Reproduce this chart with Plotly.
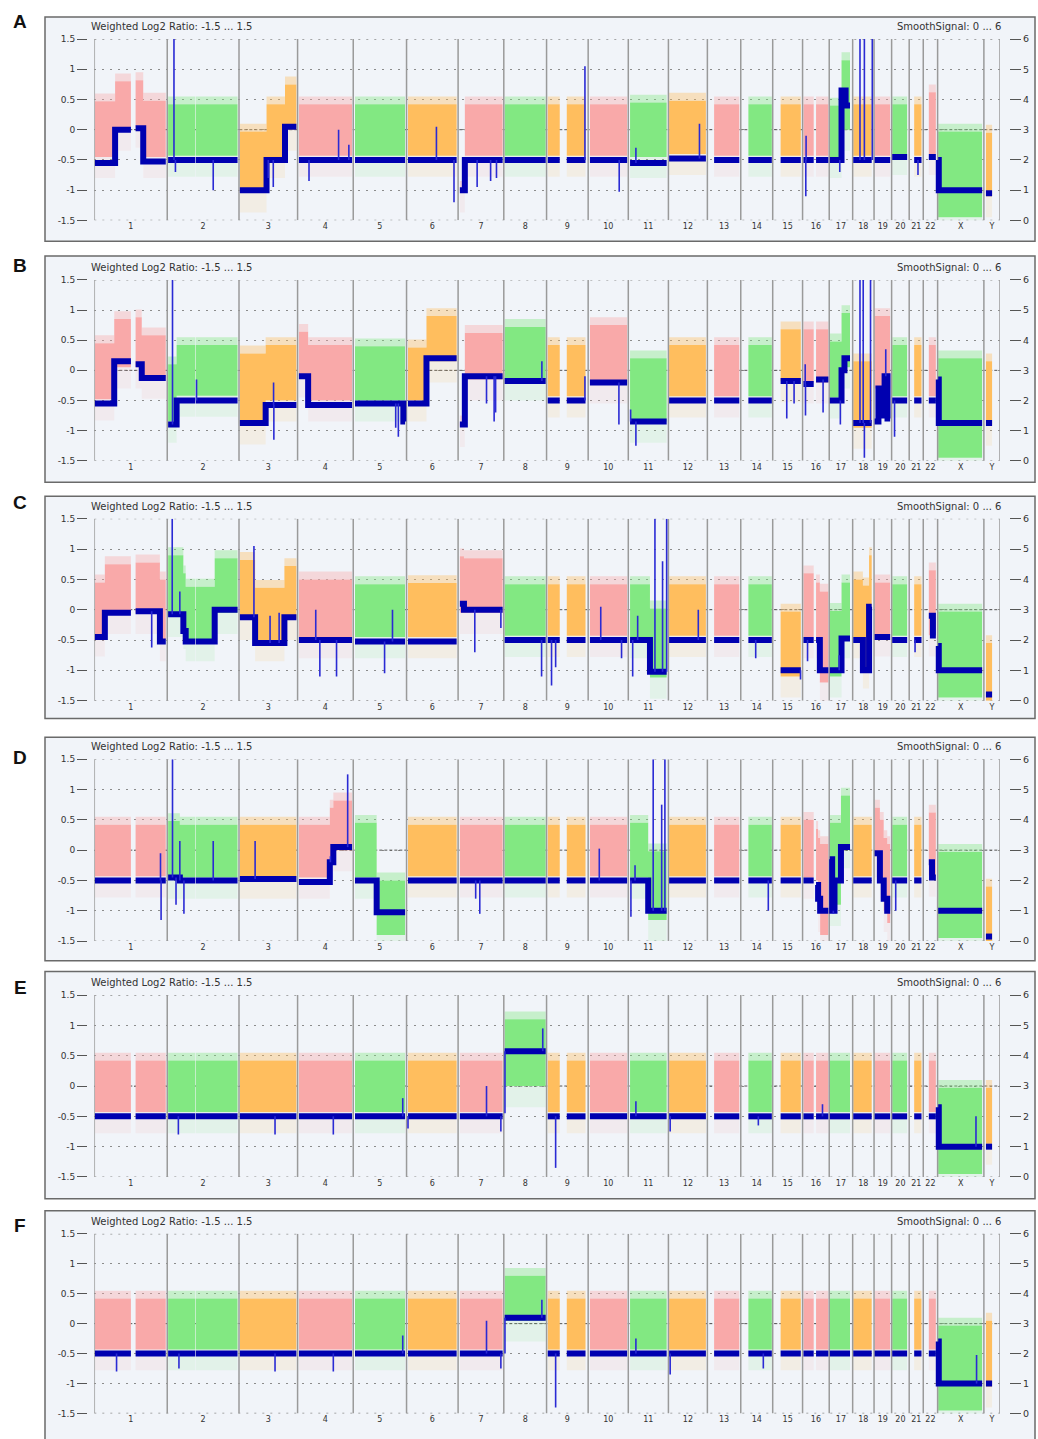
import plotly.graph_objects as go

W, H = 1038, 1439

# ---------------- data ----------------
CHROMS = [str(i) for i in range(1, 23)] + ["X", "Y"]
# display lengths (Mb) read from the chromosome separators
CHROM_LEN = [249, 245, 200, 190, 182, 176, 156, 146, 142, 137, 137, 133,
             114, 109, 102, 91, 80, 73, 60, 60, 48, 49, 158, 55]
# covered regions (Mb within chromosome) where probes exist
ARMS = {
    "1": [(2, 125), (141, 244)], "2": [(3, 95.5), (97.5, 240)], "3": [(3, 196)],
    "4": [(4.5, 186)], "5": [(6, 177)], "6": [(5, 171)], "7": [(6, 152)],
    "8": [(3, 143)], "9": [(4, 45), (69, 133)], "10": [(6, 133)], "11": [(6, 131)],
    "12": [(2.4, 128)], "13": [(23, 109)], "14": [(26, 106)], "15": [(27, 96)],
    "16": [(3, 38), (46, 88)], "17": [(2, 71)], "18": [(2, 65)], "19": [(2, 55)],
    "20": [(2, 53)], "21": [(17, 42)], "22": [(19, 43)], "X": [(2, 152)], "Y": [(7, 28)],
}
BAND_COLORS = [(249, 169, 169), (130, 232, 130), (255, 190, 94)]
DEFAULT_LEVEL = 2.0
DEFAULT_BAND = (-0.43, 0.42)

PANELS = ["A", "B", "C", "D", "E", "F"]

# segments: (chrom, start Mb, end Mb, SmoothSignal level, log2 band low, log2 band high)
SEG_A = [
    ("1", 0, 71, 1.9, -0.45, 0.47), ("1", 71, 133, 3.0, 0.0, 0.8),
    ("1", 133, 167, 3.05, 0.05, 0.82), ("1", 167, 249, 1.95, -0.45, 0.48),
    ("3", 0, 94, 1.0, -1.02, -0.03), ("3", 94, 157, 2.0, -0.45, 0.42), ("3", 157, 200, 3.1, 0.0, 0.75),
    ("7", 0, 23, 1.0, -1.02, -0.98), ("7", 23, 156, 2.0, -0.43, 0.42),
    ("11", 0, 137, 1.9, -0.45, 0.45), ("12", 0, 133, 2.05, -0.4, 0.48),
    ("17", 0, 42, 2.0, -0.45, 0.4), ("17", 42, 56, 4.3, 0.0, 1.15), ("17", 56, 80, 3.8, 0.0, 1.15),
    ("20", 0, 60, 2.1, -0.4, 0.42), ("22", 0, 49, 2.1, -0.4, 0.62),
    ("X", 0, 4, 2.0, -1.45, -0.03), ("X", 4, 158, 1.0, -1.45, -0.03),
    ("Y", 0, 55, 0.9, -1.1, -0.05),
]
SPK_A = [
    ("2", 23, 6.0), ("2", 28, 1.6), ("2", 157, 1.0), ("3", 117, 1.1), ("3", 100, 1.4),
    ("4", 39, 1.3), ("4", 140, 3.0), ("4", 175, 2.5), ("6", 102, 3.1), ("6", 162, 0.6),
    ("7", 65, 1.1), ("7", 111, 1.3), ("7", 131, 1.4), ("9", 131, 5.1), ("10", 106, 0.95),
    ("11", 26, 2.4), ("12", 106, 3.2), ("16", 11, 0.8), ("16", 12, 2.8), ("17", 36, 1.6),
    ("18", 25, 6.0), ("18", 40, 6.0), ("18", 67, 6.0), ("21", 30, 1.5),
]

SEG_B = [
    ("1", 0, 68, 1.9, -0.48, 0.45), ("1", 68, 133, 3.3, 0.05, 0.85),
    ("1", 133, 162, 3.2, 0.05, 0.88), ("1", 162, 249, 2.75, -0.12, 0.58),
    ("2", 0, 32, 1.2, -0.85, 0.1), ("2", 32, 245, 2.0, -0.42, 0.42),
    ("3", 0, 91, 1.25, -0.88, 0.28), ("3", 91, 200, 1.85, -0.5, 0.42),
    ("4", 0, 36, 2.8, -0.1, 0.64), ("4", 36, 190, 1.85, -0.5, 0.42),
    ("5", 0, 171, 1.9, -0.5, 0.4), ("5", 171, 182, 1.3, -0.5, 0.4),
    ("6", 0, 68, 1.9, -0.5, 0.38), ("6", 68, 176, 3.4, 0.15, 0.9),
    ("7", 0, 23, 1.2, -0.92, -0.88), ("7", 23, 156, 2.8, -0.15, 0.62),
    ("8", 0, 146, 2.65, -0.15, 0.72), ("10", 0, 137, 2.6, -0.2, 0.75),
    ("11", 0, 137, 1.3, -0.85, 0.2), ("15", 0, 102, 2.65, -0.18, 0.68),
    ("16", 0, 42, 2.55, -0.2, 0.68), ("16", 42, 91, 2.7, -0.2, 0.68),
    ("17", 0, 42, 2.0, -0.45, 0.48), ("17", 42, 52, 3.0, 0.05, 0.95), ("17", 52, 80, 3.4, 0.05, 0.95),
    ("18", 0, 73, 1.25, -0.95, 0.15),
    ("19", 0, 15, 1.3, -0.3, 0.9), ("19", 15, 27, 2.4, -0.3, 0.9), ("19", 27, 36, 1.5, -0.3, 0.9),
    ("19", 36, 46, 2.8, -0.3, 0.9), ("19", 46, 60, 1.4, -0.3, 0.9),
    ("X", 0, 4, 2.7, -1.45, 0.2), ("X", 4, 158, 1.25, -1.45, 0.2),
    ("Y", 0, 55, 1.25, -0.9, 0.15),
]
SPK_B = [
    ("2", 18, 6.0), ("2", 100, 2.7), ("3", 119, 0.7), ("3", 118, 2.6), ("5", 154, 0.8),
    ("5", 145, 1.1), ("7", 97, 1.9), ("7", 123, 1.3), ("7", 128, 1.6), ("8", 130, 3.3),
    ("9", 131, 2.8), ("10", 105, 1.2), ("11", 26, 0.5), ("11", 8, 1.7), ("15", 48, 1.4),
    ("15", 73, 1.9), ("16", 10, 1.5), ("16", 9, 3.2), ("16", 70, 1.6), ("17", 38, 1.2),
    ("18", 25, 6.0), ("18", 36, 6.0), ("18", 61, 6.0), ("18", 40, 0.1), ("19", 40, 3.7),
    ("20", 10, 0.8),
]

SEG_C = [
    ("1", 0, 36, 2.1, -0.42, 0.45), ("1", 36, 133, 2.9, -0.05, 0.75),
    ("1", 133, 224, 2.95, -0.05, 0.78), ("1", 224, 249, 1.95, -0.5, 0.5),
    ("2", 0, 55, 2.85, -0.1, 0.9), ("2", 55, 63, 2.3, -0.3, 0.6),
    ("2", 63, 162, 1.95, -0.5, 0.38), ("2", 162, 245, 3.0, -0.05, 0.85),
    ("3", 0, 55, 2.75, -0.15, 0.82), ("3", 55, 155, 1.9, -0.5, 0.36), ("3", 155, 200, 2.75, -0.15, 0.72),
    ("4", 0, 190, 2.0, -0.45, 0.5), ("5", 0, 182, 1.95, -0.45, 0.42), ("6", 0, 176, 1.95, -0.45, 0.44),
    ("7", 0, 20, 3.2, -0.05, 0.88), ("7", 20, 156, 3.0, -0.05, 0.85),
    ("11", 0, 74, 2.0, -0.45, 0.42), ("11", 74, 137, 0.95, -1.12, 0.02),
    ("15", 0, 102, 1.0, -1.1, -0.03),
    ("16", 0, 42, 2.0, -0.45, 0.6), ("16", 42, 59, 2.0, -0.45, 0.45), ("16", 59, 91, 1.0, -1.2, 0.3),
    ("17", 0, 42, 1.0, -1.1, -0.02), ("17", 42, 80, 2.05, -0.45, 0.45),
    ("18", 0, 35, 2.0, -0.45, 0.5), ("18", 35, 56, 1.0, -0.95, 0.4),
    ("18", 56, 66, 3.1, 0.0, 0.9), ("18", 66, 73, 1.0, -0.95, 0.4),
    ("19", 0, 60, 2.1, -0.42, 0.45),
    ("22", 0, 33, 2.8, -0.42, 0.65), ("22", 33, 49, 2.15, -0.42, 0.65),
    ("X", 0, 4, 1.8, -1.45, -0.03), ("X", 4, 158, 1.0, -1.45, -0.03),
    ("Y", 0, 55, 0.2, -1.5, -0.55),
]
SPK_C = [
    ("1", 196, 1.75), ("2", 17, 6.0), ("2", 43, 3.6), ("3", 51, 5.1), ("3", 106, 2.8),
    ("3", 137, 2.9), ("4", 62, 3.0), ("4", 76, 0.8), ("4", 133, 0.8), ("5", 107, 0.9),
    ("5", 134, 3.0), ("7", 57, 1.6), ("7", 146, 2.4), ("8", 129, 0.8), ("9", 17, 0.5),
    ("9", 31, 1.1), ("10", 43, 3.1), ("10", 114, 1.4), ("11", 15, 0.8), ("11", 32, 2.8),
    ("11", 91, 6.0), ("11", 117, 4.6), ("11", 131, 6.0), ("12", 102, 3.0), ("14", 51, 1.4),
    ("15", 95, 0.7), ("16", 17, 1.3), ("17", 34, 1.5), ("21", 20, 1.6),
]

SEG_D = [
    ("2", 0, 43, 2.1, -0.45, 0.48), ("2", 43, 245, 2.0, -0.45, 0.42),
    ("3", 0, 200, 2.05, -0.45, 0.42),
    ("4", 0, 110, 1.95, -0.45, 0.42), ("4", 110, 122, 2.6, -0.1, 0.7), ("4", 122, 190, 3.1, 0.0, 0.82),
    ("5", 0, 80, 2.0, -0.45, 0.45), ("5", 80, 182, 0.95, -1.4, -0.5),
    ("11", 0, 68, 2.0, -0.45, 0.45), ("11", 68, 137, 1.0, -1.15, -0.02),
    ("16", 0, 42, 2.0, -0.45, 0.5), ("16", 42, 53, 1.85, -0.5, 0.35),
    ("16", 53, 60, 1.4, -1.0, 0.2), ("16", 60, 91, 1.0, -1.4, 0.1),
    ("17", 0, 10, 2.7, -0.9, 0.45), ("17", 10, 18, 1.0, -0.9, 0.45),
    ("17", 18, 40, 2.0, -0.9, 0.45), ("17", 40, 80, 3.1, 0.05, 0.9),
    ("19", 0, 20, 2.9, -0.1, 0.7), ("19", 20, 33, 2.0, -0.45, 0.5),
    ("19", 33, 45, 1.4, -1.0, 0.2), ("19", 45, 60, 1.0, -1.2, 0.1),
    ("22", 0, 30, 2.6, -0.42, 0.62), ("22", 30, 49, 2.1, -0.42, 0.62),
    ("X", 0, 158, 1.0, -1.45, -0.03), ("Y", 0, 55, 0.15, -1.5, -0.6),
]
SPK_D = [
    ("1", 228, 0.7), ("1", 226, 2.9), ("2", 18, 6.0), ("2", 43, 3.3), ("2", 57, 0.9),
    ("2", 157, 3.3), ("2", 30, 1.2), ("3", 55, 3.3), ("4", 171, 5.5), ("4", 112, 2.8),
    ("7", 74, 0.9), ("7", 60, 1.4), ("10", 38, 3.05), ("11", 9, 0.8), ("11", 23, 2.5),
    ("11", 85, 6.0), ("11", 114, 4.5), ("11", 125, 6.0), ("14", 94, 1.0), ("17", 14, 0.9),
    ("20", 14, 1.0),
]

SEG_E = [
    ("8", 0, 146, 4.15, 0.0, 1.1),
    ("X", 0, 4, 2.3, -1.45, -0.03), ("X", 4, 158, 1.0, -1.45, -0.03),
    ("Y", 0, 55, 1.0, -0.95, -0.03),
]
SPK_E = [
    ("2", 38, 1.4), ("3", 123, 1.4), ("4", 122, 1.4), ("5", 169, 2.6), ("6", 5, 1.6),
    ("7", 97, 3.0), ("7", 146, 1.5), ("8", 4, 2.1), ("8", 133, 4.9), ("9", 31, 0.3),
    ("11", 26, 2.5), ("12", 6, 1.5), ("14", 60, 1.7), ("16", 68, 2.4), ("X", 131, 2.0),
]

SEG_F = [
    ("8", 0, 146, 3.2, 0.05, 0.8),
    ("X", 0, 4, 2.4, -1.45, -0.03), ("X", 4, 158, 1.0, -1.45, -0.03),
    ("Y", 0, 55, 1.0, -1.05, 0.05),
]
SPK_F = [
    ("1", 76, 1.4), ("2", 40, 1.5), ("3", 123, 1.4), ("4", 122, 1.4), ("5", 169, 2.6),
    ("7", 97, 3.1), ("7", 146, 1.5), ("8", 4, 2.0), ("8", 130, 3.8), ("9", 31, 0.2),
    ("11", 26, 2.5), ("12", 6, 1.3), ("14", 77, 1.5), ("X", 133, 1.95),
]

SEGS = {"A": SEG_A, "B": SEG_B, "C": SEG_C, "D": SEG_D, "E": SEG_E, "F": SEG_F}
SPKS = {"A": SPK_A, "B": SPK_B, "C": SPK_C, "D": SPK_D, "E": SPK_E, "F": SPK_F}

LOG2_TICKS = [-1.5, -1, -0.5, 0, 0.5, 1, 1.5]
LOG2_TEXT = ["-1.5", "-1", "-0.5", "0", "0.5", "1", "1.5"]
SIG_TICKS = [0, 1, 2, 3, 4, 5, 6]

# ---------------- geometry (pixels) ----------------
PLOT_LEFT, PLOT_RIGHT = 94.3, 1000
PLOT_TOP = [33.3, 276, 516.7, 759, 996.7, 1237.3]
PLOT_BOT = [216, 458.3, 700, 942.3, 1180, 1418.3]
FRAME_TOP = [11, 252, 494, 737, 973, 1214]
FRAME_BOT = [237, 480, 718, 962, 1202, 1450]
LETTER_Y = [15.5, 261, 500, 757, 989, 1229]
FONT = "Liberation Sans, Arial, sans-serif"
TFONT = "DejaVu Sans, Verdana, sans-serif"

cum = [0]
for L in CHROM_LEN:
    cum.append(cum[-1] + L)
TOTAL = cum[-1]
centers = [(cum[i] + cum[i + 1]) / 2 for i in range(len(CHROMS))]


def px_y(p):
    return 1 - p / H


def segs_for(panel, chrom):
    lst = [s for s in SEGS[panel] if s[0] == chrom]
    if not lst:
        ci = CHROMS.index(chrom)
        lst = [(chrom, 0, CHROM_LEN[ci], DEFAULT_LEVEL, DEFAULT_BAND[0], DEFAULT_BAND[1])]
    return lst


def level_at(panel, chrom, pos):
    lst = segs_for(panel, chrom)
    for s in lst:
        if s[1] <= pos < s[2]:
            return s[3]
    return lst[-1][3]


def rgba(c, a):
    return f"rgba({c[0]},{c[1]},{c[2]},{a})"


fig = go.Figure()
layout = dict(width=W, height=H, margin=dict(l=0, r=0, t=0, b=0), autosize=False,
              paper_bgcolor="white", plot_bgcolor="#edf1f8", showlegend=False,
              font=dict(family=FONT, color="#333"), shapes=[], annotations=[])

for i, panel in enumerate(PANELS):
    n = i + 1
    xa = "x" if n == 1 else f"x{n}"
    ya_i, yb_i = 2 * i + 1, 2 * i + 2
    ya = "y" if ya_i == 1 else f"y{ya_i}"
    yb = f"y{yb_i}"

    # zero reference line and dotted top / bottom borders
    fig.add_trace(go.Scatter(x=[0, TOTAL], y=[0, 0], mode="lines", xaxis=xa, yaxis=ya,
                             line=dict(color="#555", width=1, dash="3px,2px"), hoverinfo="skip"))
    fig.add_trace(go.Scatter(x=[0, TOTAL, None, 0, TOTAL], y=[1.5, 1.5, None, -1.5, -1.5], mode="lines",
                             xaxis=xa, yaxis=ya, cliponaxis=False,
                             line=dict(color="#8c8c8c", width=1.2, dash="2px,6px"), hoverinfo="skip"))

    band = {k: ([], []) for k in range(3)}
    halo_t = {k: ([], []) for k in range(3)}
    halo_b = {k: ([], []) for k in range(3)}
    bx, by = [], []
    for ci, chrom in enumerate(CHROMS):
        k = ci % 3
        for (a0, a1) in ARMS[chrom]:
            for s in segs_for(panel, chrom):
                lo_x, hi_x = max(s[1], a0), min(s[2], a1)
                if hi_x <= lo_x:
                    continue
                X0, X1 = cum[ci] + lo_x, cum[ci] + hi_x
                lo, hi = s[4], s[5]
                for (d, y0, y1) in ((band, lo, hi), (halo_t, hi, hi + 0.13), (halo_b, lo - 0.35, lo)):
                    d[k][0].extend([X0, X1, X1, X0, X0, None])
                    d[k][1].extend([y0, y0, y1, y1, y0, None])
                bx.extend([X0, X1])
                by.extend([s[3], s[3]])
            bx.append(None)
            by.append(None)

    for k in range(3):
        fig.add_trace(go.Scatter(x=halo_b[k][0], y=halo_b[k][1], fill="toself", mode="none",
                                 fillcolor=rgba(BAND_COLORS[k], 0.13), xaxis=xa, yaxis=ya, hoverinfo="skip"))
        fig.add_trace(go.Scatter(x=halo_t[k][0], y=halo_t[k][1], fill="toself", mode="none",
                                 fillcolor=rgba(BAND_COLORS[k], 0.38), xaxis=xa, yaxis=ya, hoverinfo="skip"))
    for k in range(3):
        fig.add_trace(go.Scatter(x=band[k][0], y=band[k][1], fill="toself", mode="none",
                                 fillcolor=rgba(BAND_COLORS[k], 1), xaxis=xa, yaxis=ya, hoverinfo="skip"))

    # chromosome separators
    sx, sy = [], []
    for b in cum:
        sx.extend([b, b, None])
        sy.extend([-1.5, 1.5, None])
    fig.add_trace(go.Scatter(x=sx, y=sy, mode="lines", xaxis=xa, yaxis=ya,
                             line=dict(color="#9a9a9a", width=1.5), hoverinfo="skip"))

    # smooth signal
    fig.add_trace(go.Scatter(x=bx, y=by, mode="lines", xaxis=xa, yaxis=yb,
                             line=dict(color="#0000b0", width=6), hoverinfo="skip"))
    kx, ky = [], []
    for (chrom, pos, val) in SPKS[panel]:
        ci = CHROMS.index(chrom)
        X = cum[ci] + pos
        kx.extend([X, X, None])
        ky.extend([level_at(panel, chrom, pos), val, None])
    fig.add_trace(go.Scatter(x=kx, y=ky, mode="lines", xaxis=xa, yaxis=yb,
                             line=dict(color="#2a2ad4", width=1.6), hoverinfo="skip"))

    # axes
    ydom = [px_y(PLOT_BOT[i]), px_y(PLOT_TOP[i])]
    layout["xaxis" if n == 1 else f"xaxis{n}"] = dict(
        domain=[PLOT_LEFT / W, PLOT_RIGHT / W], range=[0, TOTAL], anchor=ya,
        tickvals=centers, ticktext=CHROMS, showgrid=False, zeroline=False, showline=False,
        ticks="", tickfont=dict(size=8, color="#333", family=TFONT), fixedrange=True)
    layout["yaxis" if ya_i == 1 else f"yaxis{ya_i}"] = dict(
        domain=ydom, range=[-1.5, 1.5], anchor="free", position=87 / W,
        tickvals=LOG2_TICKS, ticktext=LOG2_TEXT, ticks="outside", ticklen=10, tickwidth=1.3,
        tickcolor="#555", showgrid=True, gridcolor="#8c8c8c", griddash="2px,6px", gridwidth=1,
        zeroline=False, showline=False, tickfont=dict(size=9, color="#333", family=TFONT),
        fixedrange=True)
    layout[f"yaxis{yb_i}"] = dict(
        overlaying=ya, side="right", anchor="free", position=1009 / W, range=[0, 6],
        tickvals=SIG_TICKS, ticks="outside", ticklen=11, tickwidth=1.3, tickcolor="#555",
        showgrid=False, zeroline=False, showline=False,
        tickfont=dict(size=9.5, color="#333", family=TFONT), fixedrange=True)

    # frame
    layout["shapes"].append(dict(type="rect", xref="paper", yref="paper", layer="below",
                                 x0=45 / W, x1=1035 / W, y0=px_y(FRAME_BOT[i]), y1=px_y(FRAME_TOP[i]),
                                 fillcolor="#f1f4f9", line=dict(color="#6a6a6a", width=1.5)))
    # texts
    ty = px_y(PLOT_TOP[i] - 12.5)
    layout["annotations"].append(dict(text="Weighted Log2 Ratio: -1.5 ... 1.5", xref="paper", yref="paper",
                                      x=89 / W, y=ty, xanchor="left", yanchor="middle", showarrow=False,
                                      font=dict(size=10, color="#333", family=TFONT)))
    layout["annotations"].append(dict(text="SmoothSignal: 0 ... 6", xref="paper", yref="paper",
                                      x=1003 / W, y=ty, xanchor="right", yanchor="middle", showarrow=False,
                                      font=dict(size=10, color="#333", family=TFONT)))
    layout["annotations"].append(dict(text=f"<b>{panel}</b>", xref="paper", yref="paper",
                                      x=20 / W, y=px_y(LETTER_Y[i]), xanchor="center", yanchor="middle",
                                      showarrow=False, font=dict(size=19, color="#111", family=FONT)))

fig.update_layout(**layout)
fig.write_html("out.html")
